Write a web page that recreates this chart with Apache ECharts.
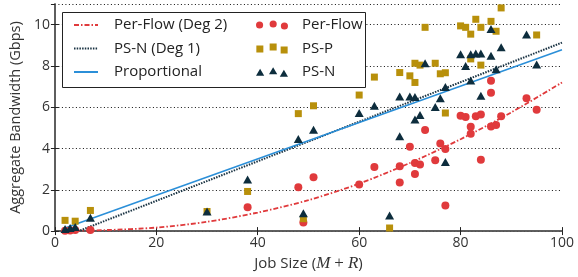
<!DOCTYPE html>
<html lang="en">
<head>
    <meta charset="UTF-8">
    <title>Aggregate Bandwidth vs Job Size</title>
    <script src="https://cdn.jsdelivr.net/npm/echarts@6/dist/echarts.min.js"></script>
    <style>
        html, body { margin: 0; padding: 0; background: #fff; }
        #main { width: 578px; height: 277px; }
    </style>
</head>
<body>
<div id="main"></div>
<script>
    // measured points [job size, Gbps]
    var perFlowPts = [[2, 0.02], [3, 0.03], [4, 0.05], [7, 0.05], [38, 1.15], [48, 2.13], [49, 0.42], [51, 2.61],
        [60, 2.26], [63, 3.11], [68, 3.14], [68, 2.35], [70, 4.08], [71, 3.30], [71, 2.77], [72, 3.22], [73, 4.9],
        [75, 3.43], [76, 4.24], [77, 3.98], [77, 1.24], [80, 5.59], [81, 5.53], [82, 5.06], [82, 4.72], [83, 5.56],
        [84, 5.65], [84, 3.46], [86, 7.28], [86, 6.7], [86, 5.07], [87, 5.14], [88, 5.56], [93, 6.43], [95, 5.88]];
    var psPPts = [[2, 0.52], [4, 0.48], [7, 1.0], [30, 0.95], [38, 1.92], [48, 5.69], [49, 0.6], [51, 6.07],
        [60, 6.59], [63, 7.46], [66, 0.15], [68, 7.68], [70, 7.52], [71, 8.13], [71, 7.2], [72, 8.04], [73, 9.87],
        [75, 8.13], [76, 7.62], [77, 7.67], [77, 5.72], [80, 9.94], [81, 9.87], [82, 9.54], [82, 8.34], [83, 10.26],
        [84, 9.87], [84, 8.04], [86, 10.16], [87, 9.68], [88, 10.81], [95, 9.5]];
    var psNPts = [[2, 0.1], [3, 0.15], [4, 0.2], [7, 0.65], [30, 0.95], [38, 2.5], [48, 4.46], [49, 0.86], [51, 4.91],
        [60, 5.72], [63, 6.07], [66, 0.76], [68, 6.52], [68, 4.59], [70, 6.52], [71, 6.49], [71, 5.4], [72, 5.62],
        [73, 8.13], [75, 6.01], [76, 6.43], [77, 6.98], [77, 3.35], [80, 8.57], [81, 8.0], [82, 8.57], [82, 7.3],
        [83, 8.6], [84, 8.6], [84, 6.56], [86, 9.79], [86, 8.49], [87, 7.84], [88, 8.91], [93, 9.52], [95, 8.07]];

    // fitted curves
    var perFlowFitX = [2, 10, 20, 30, 40, 50, 60, 70, 80, 90, 100];
    var perFlowFitY = [0.02, 0.05, 0.17, 0.45, 0.9, 1.5, 2.3, 3.3, 4.45, 5.75, 7.2];
    var psNFit = [[5, 0.03], [100, 9.13]];
    var propFit = [[2, 0.15], [100, 8.78]];

    var RED = '#e03a3c', GOLD = '#b8900b', DARK = '#0d2d3d', BLUE = '#2b8fd8';
    var FONT = 'Open Sans';

    // legend icons: three markers each (like the original)
    var icon3Circles = 'path://M0,5.5a3.5,3.5 0 1,0 7,0a3.5,3.5 0 1,0 -7,0Z' +
        'M13.3,4.5a3.5,3.5 0 1,0 7,0a3.5,3.5 0 1,0 -7,0Z' +
        'M24.3,6.5a3.5,3.5 0 1,0 7,0a3.5,3.5 0 1,0 -7,0Z';
    var icon3Squares = 'path://M0,2L7,2L7,9L0,9Z M13.3,0L20.3,0L20.3,7L13.3,7Z M24.3,3L31.3,3L31.3,10L24.3,10Z';
    var icon3Tris = 'path://M3.5,2L7.7,9L-0.7,9Z M16.8,0.5L21,7.5L12.6,7.5Z M27.8,3L32,10L23.6,10Z';

    var perFlowFit = perFlowFitX.map(function (x, i) { return [x, perFlowFitY[i]]; });

    var chart = echarts.init(document.getElementById('main'));
    var axisCol = '#555';
    var option = {
        animation: false,
        textStyle: {fontFamily: FONT},
        grid: {left: 54, right: 16, top: 4, bottom: 45},
        graphic: [{
            type: 'rect', left: 62, top: 12, z: 3,
            shape: {width: 303, height: 75},
            style: {fill: '#fff', stroke: '#222', lineWidth: 1}
        }],
        legend: [{
            left: 73, top: 16, padding: 0, orient: 'vertical', itemGap: 5.5,
            itemWidth: 24, itemHeight: 10, z: 4,
            itemStyle: {opacity: 0},
            textStyle: {fontFamily: FONT, fontSize: 15, color: '#222', lineHeight: 18, padding: [0, 0, 0, 11]},
            data: ['Per-Flow (Deg 2)', 'PS-N (Deg 1)', 'Proportional']
        }, {
            left: 256, top: 16, padding: 0, orient: 'vertical', itemGap: 5.5,
            itemWidth: 32, itemHeight: 10, z: 4,
            textStyle: {fontFamily: FONT, fontSize: 15, color: '#222', lineHeight: 18, padding: [0, 0, 0, 9]},
            data: [
                {name: 'Per-Flow', icon: icon3Circles},
                {name: 'PS-P', icon: icon3Squares},
                {name: 'PS-N', icon: icon3Tris}
            ]
        }],
        xAxis: [{
            type: 'value', min: 0, max: 100, interval: 20,
            name: 'Job Size ({i|M}{m|+}{i|R})', nameLocation: 'middle', nameGap: 21,
            nameTextStyle: {
                fontFamily: FONT, fontSize: 15, color: '#333',
                rich: {
                    i: {fontFamily: 'Liberation Serif', fontStyle: 'italic', fontSize: 17, color: '#333'},
                    m: {fontFamily: 'Liberation Serif', fontSize: 17, color: '#333', padding: [0, 4, 0, 4]}
                }
            },
            axisLine: {lineStyle: {color: axisCol, width: 1.5}},
            axisTick: {inside: true, length: 4, lineStyle: {color: '#222'}},
            axisLabel: {fontSize: 14, color: '#333', margin: 5},
            splitLine: {show: false}
        }, {
            type: 'value', min: 0, max: 100, interval: 20, position: 'top',
            axisLine: {show: true, lineStyle: {color: axisCol, width: 1.5}},
            axisTick: {inside: true, length: 4, lineStyle: {color: '#222'}},
            axisLabel: {show: false},
            splitLine: {show: false}
        }],
        yAxis: [{
            type: 'value', min: 0, max: 11, interval: 2,
            name: 'Aggregate Bandwidth (Gbps)', nameLocation: 'middle', nameGap: 24,
            nameTextStyle: {fontFamily: FONT, fontSize: 14.5, color: '#333'},
            axisLine: {show: true, lineStyle: {color: axisCol, width: 1.5}},
            axisTick: {show: true, inside: true, length: 4, lineStyle: {color: '#222'}},
            axisLabel: {fontSize: 14, color: '#333', margin: 5, showMaxLabel: false},
            splitLine: {show: true, lineStyle: {color: '#111', type: [1, 2.5], width: 1}}
        }, {
            type: 'value', min: 0, max: 11, interval: 2, position: 'right',
            axisLine: {show: true, lineStyle: {color: axisCol, width: 1.5}},
            axisTick: {show: true, inside: true, length: 4, lineStyle: {color: '#222'}},
            axisLabel: {show: false},
            splitLine: {show: false}
        }],
        series: [{
            name: 'Per-Flow (Deg 2)', type: 'line', data: perFlowFit, smooth: 0.3,
            showSymbol: false, symbol: 'none', z: 2,
            lineStyle: {color: RED, width: 1.8, type: [5, 2, 1.5, 2]},
            itemStyle: {color: RED}
        }, {
            name: 'PS-N (Deg 1)', type: 'line', data: psNFit,
            showSymbol: false, symbol: 'none', z: 2,
            lineStyle: {color: '#1a3343', width: 2, type: [1.5, 1.2]},
            itemStyle: {color: '#1a3343'}
        }, {
            name: 'Proportional', type: 'line', data: propFit,
            showSymbol: false, symbol: 'none', z: 2,
            lineStyle: {color: BLUE, width: 1.6},
            itemStyle: {color: BLUE}
        }, {
            name: 'Per-Flow', type: 'scatter', data: perFlowPts, symbol: 'circle', symbolSize: 8, z: 3,
            itemStyle: {color: RED, opacity: 1}
        }, {
            name: 'PS-P', type: 'scatter', data: psPPts, symbol: 'rect', symbolSize: 7, z: 3,
            itemStyle: {color: GOLD, opacity: 1}
        }, {
            name: 'PS-N', type: 'scatter', data: psNPts, symbol: 'triangle', symbolSize: [9, 8], z: 3,
            itemStyle: {color: DARK, opacity: 1}
        }]
    };
    chart.setOption(option);
</script>
</body>
</html>
